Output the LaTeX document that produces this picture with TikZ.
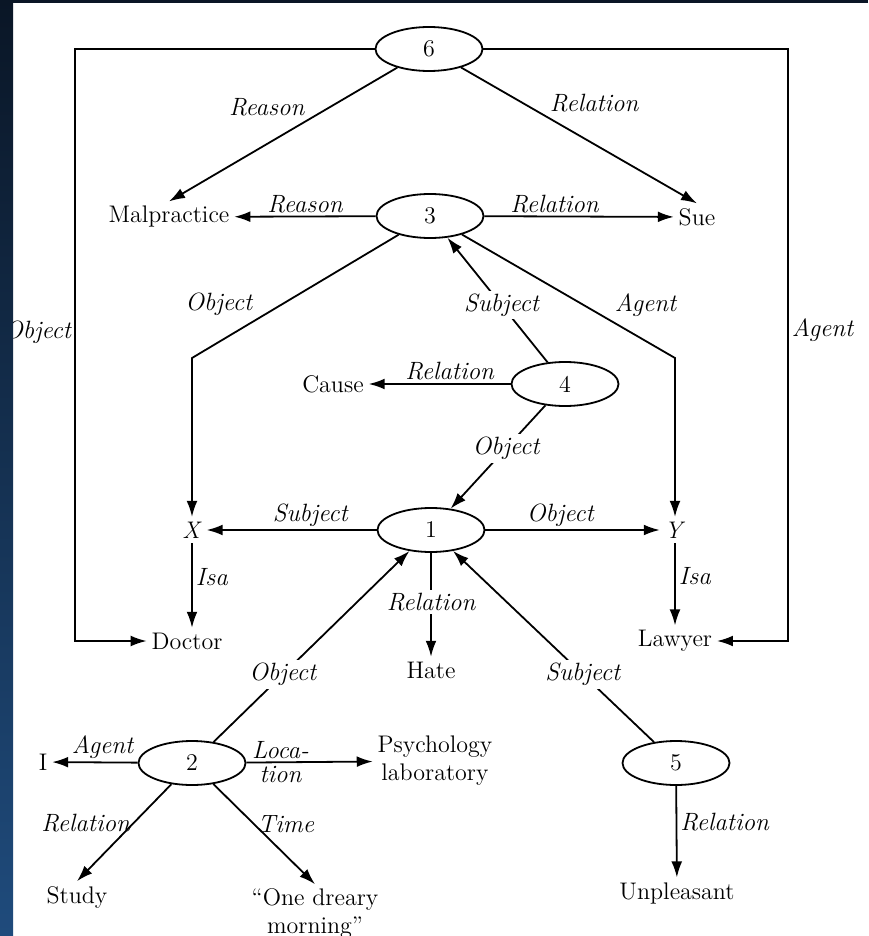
\documentclass[tikz,border=0pt]{standalone}
\usepackage{tikz}
\usetikzlibrary{shapes.geometric,arrows.meta,positioning,calc}
\definecolor{slidetop}{HTML}{0A1626}
\definecolor{slidebot}{HTML}{1F4B7C}

\begin{document}
\begin{tikzpicture}[x=0.5pt, y=-0.5pt, >={Latex[length=8pt,width=5.4pt]}, line width=0.9pt,
    prop/.style={draw, ellipse, minimum width=53.5pt, minimum height=22pt, inner sep=0pt, font=\fontsize{12}{14}\selectfont},
    txt/.style={inner sep=2pt, align=center, font=\fontsize{12}{14}\selectfont},
    lbl/.style={inner sep=1.5pt, font=\fontsize{12.5}{14}\selectfont\itshape},
    cut/.style={lbl, fill=white}]
    \useasboundingbox (0,0) rectangle (868,936);
    \fill[white] (0,0) rectangle (868,936);

    % Propositions
    \node [prop] (p6) at (429,49) {6};
    \node [prop] (p3) at (430,216) {3};
    \node [prop] (p4) at (565,384) {4};
    \node [prop] (p1) at (431,530) {1};
    \node [prop] (p2) at (192,763) {2};
    \node [prop] (p5) at (676,763) {5};

    % Concepts
    \node [txt] (mal) at (169,217) {Malpractice};
    \node [txt] (sue) at (697,217) {Sue};
    \node [txt] (cause) at (333,384) {Cause};
    \node [txt] (xn) at (192,530) {\textit{X}};
    \node [txt] (yn) at (675,530) {\textit{Y}};
    \node [txt] (doc) at (187,641) {Doctor};
    \node [txt] (law) at (675,641) {Lawyer};
    \node [txt] (hate) at (431,670) {Hate};
    \node [txt] (ii) at (43,762) {I};
    \node [txt] (psy) at (435,761) {Psychology\\laboratory};
    \node [txt] (study) at (77,897) {Study};
    \node [txt] (morn) at (315,914) {``One dreary\\morning''};
    \node [txt] (unp) at (677,893) {Unpleasant};

    % Bends
    \coordinate (tl) at (75,49);
    \coordinate (bl) at (75,641);
    \coordinate (tr) at (788,49);
    \coordinate (br) at (788,641);
    \coordinate (bx) at (192,358);
    \coordinate (by) at (675,358);

    % Proposition 6
    \draw [->] (p6) -- (tl) -- node [lbl, left, pos=0.478] {Object} (bl) -- (doc);
    \draw [->] (p6) -- (tr) -- node [lbl, right, pos=0.475] {Agent} (br) -- (law);
    \draw [->] (p6) -- node [lbl, anchor=south east, pos=0.39] {Reason} (mal.north);
    \draw [->] (p6) -- node [lbl, anchor=south west, pos=0.36] {Relation} (sue.north);

    % Proposition 3
    \draw [->] (p3) -- node [lbl, above] {Reason} (mal);
    \draw [->] (p3) -- node [lbl, above, pos=0.37] {Relation} (sue);
    \draw [->] (p3) -- node [lbl, anchor=south east, pos=0.69] {Object} (bx) -- (xn);
    \draw [->] (p3) -- node [lbl, anchor=south west, pos=0.70] {Agent} (by) -- (yn);

    % Proposition 4
    \draw [->] (p4) -- node [cut, pos=0.46] {Subject} (p3);
    \draw [->] (p4) -- node [lbl, above, pos=0.43] {Relation} (cause);
    \draw [->] (p4) -- node [cut, pos=0.415] {Object} (p1);

    % Proposition 1
    \draw [->] (p1) -- node [lbl, above, pos=0.39] {Subject} (xn);
    \draw [->] (p1) -- node [lbl, above, pos=0.43] {Object} (yn);
    \draw [->] (p1) -- node [cut, pos=0.47] {Relation} (hate);
    \draw [->] (xn) -- node [lbl, right, pos=0.4] {Isa} (xn |- doc.north);
    \draw [->] (yn) -- node [lbl, right, pos=0.4] {Isa} (law);

    % Propositions 2 and 5
    \draw [->] (p2) -- node [cut, pos=0.353] {Object} (p1);
    \draw [->] (p5) -- node [cut, pos=0.354] {Subject} (p1);
    \draw [->] (p2) -- node [lbl, above, pos=0.41] {Agent} (ii);
    \draw [->] (p2) -- node [lbl, above, pos=0.27] {Loca-} node [lbl, below, pos=0.27] {tion} (psy);
    \draw [->] (p2) -- node [lbl, left, pos=0.4] {Relation} (study.north);
    \draw [->] (p2) -- node [lbl, right, pos=0.4] {Time} (morn.north);
    \draw [->] (p5) -- node [lbl, right, pos=0.4] {Relation} (unp);

    % Slide frame
    \shade [top color=slidetop, bottom color=slidebot] (0,0) rectangle (13,936);
    \fill [slidetop] (0,0) rectangle (868,3);
\end{tikzpicture}
\end{document}
